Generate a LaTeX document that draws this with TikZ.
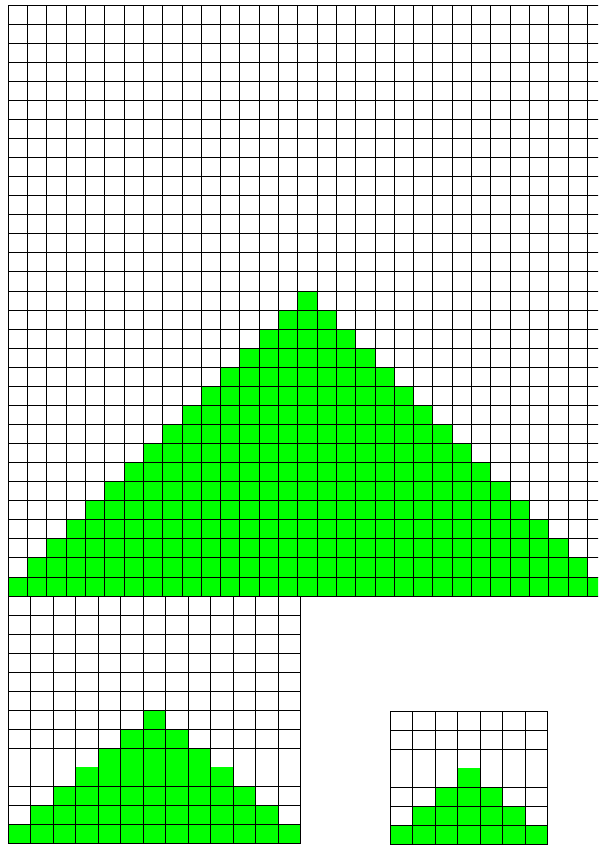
\documentclass[tikz,border=0pt]{standalone}
\usepackage{tikz}
\definecolor{cellgreen}{RGB}{0,255,0}
\tikzset{
    gridline/.style={draw=black, line width=0.9pt, line cap=rect},
    greencell/.style={fill=cellgreen}
}

\begin{document}
\begin{tikzpicture}[x=1pt, y=-1pt]
    \useasboundingbox (0,0) rectangle (598,846);
    \clip (0,0) rectangle (598,846);

    % large 31x31 grid
    \begin{scope}[shift={(8.3,5)}, x=19.3pt, y=-19.065pt]
        \foreach \k in {0,...,15}
            \fill[greencell] (\k,30-\k) rectangle (31-\k,31-\k);
        \foreach \i in {0,...,31}
            \draw[gridline] (\i,0) -- (\i,31);
        \foreach \j in {0,...,31}
            \draw[gridline] (0,\j) -- (31,\j);
    \end{scope}

    % 13x13 grid
    \begin{scope}[shift={(8.3,596)}, x=22.5pt, y=-19pt]
        \foreach \k in {0,...,6}
            \fill[greencell] (\k,12-\k) rectangle (13-\k,13-\k);
        \foreach \i in {0,...,13}
            \draw[gridline] (\i,0) -- (\i,13);
        \foreach \j in {0,...,8,10,11,12,13}
            \draw[gridline] (0,\j) -- (13,\j);
    \end{scope}

    % 7x7 grid
    \begin{scope}[shift={(390,711.7)}, x=22.5pt, y=-18.9pt]
        \foreach \k in {0,...,3}
            \fill[greencell] (\k,6-\k) rectangle (7-\k,7-\k);
        \foreach \i in {0,...,7}
            \draw[gridline] (\i,0) -- (\i,7);
        \foreach \j in {0,1,2,4,5,6,7}
            \draw[gridline] (0,\j) -- (7,\j);
    \end{scope}
\end{tikzpicture}
\end{document}
